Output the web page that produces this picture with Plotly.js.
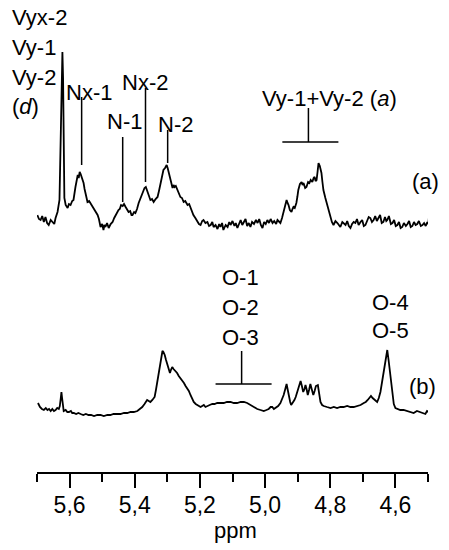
<!DOCTYPE html>
<html>
<head>
<meta charset="utf-8">
<script src="https://cdn.plot.ly/plotly-3.0.1.min.js"></script>
<style>
  html, body { margin: 0; padding: 0; background: #fff; }
  #nmr { width: 449px; height: 550px; }
</style>
</head>
<body>
<div id="nmr"></div>
<script>
// ======================================================================
// スペクトルデータ（ppm と相対強度、図から読み取り）
// ======================================================================

// (a) スペクトル
const ppmA = [
    5.699, 5.694, 5.689, 5.684, 5.679, 5.674, 5.669, 5.664, 5.658, 5.652, 5.647, 5.643, 5.637, 5.631,
    5.628, 5.625, 5.622, 5.620, 5.618, 5.616, 5.612, 5.606, 5.602, 5.597, 5.592, 5.588, 5.582, 5.578,
    5.575, 5.572, 5.569, 5.566, 5.563, 5.560, 5.557, 5.554, 5.551, 5.548, 5.545, 5.540, 5.536, 5.531,
    5.526, 5.520, 5.514, 5.510, 5.505, 5.500, 5.496, 5.493, 5.490, 5.485, 5.480, 5.474, 5.468, 5.463,
    5.459, 5.454, 5.450, 5.446, 5.442, 5.437, 5.433, 5.428, 5.424, 5.419, 5.414, 5.410, 5.407, 5.402,
    5.398, 5.393, 5.388, 5.382, 5.376, 5.373, 5.370, 5.366, 5.361, 5.356, 5.352, 5.347, 5.342, 5.336,
    5.330, 5.325, 5.321, 5.316, 5.312, 5.307, 5.302, 5.299, 5.296, 5.292, 5.288, 5.284, 5.281, 5.278,
    5.274, 5.269, 5.265, 5.260, 5.255, 5.250, 5.245, 5.238, 5.233, 5.229, 5.225, 5.220, 5.214, 5.207,
    5.203, 5.198, 5.193, 5.189, 5.183, 5.177, 5.172, 5.167, 5.162, 5.158, 5.152, 5.146, 5.141, 5.137,
    5.132, 5.128, 5.121, 5.115, 5.110, 5.106, 5.100, 5.094, 5.090, 5.085, 5.080, 5.075, 5.070, 5.066,
    5.060, 5.055, 5.050, 5.045, 5.040, 5.034, 5.028, 5.023, 5.018, 5.013, 5.008, 5.003, 4.998, 4.993,
    4.988, 4.983, 4.977, 4.972, 4.966, 4.962, 4.957, 4.953, 4.948, 4.944, 4.939, 4.934, 4.931, 4.928,
    4.924, 4.919, 4.916, 4.913, 4.909, 4.904, 4.901, 4.898, 4.893, 4.888, 4.885, 4.882, 4.877, 4.873,
    4.868, 4.864, 4.860, 4.855, 4.851, 4.848, 4.845, 4.842, 4.839, 4.836, 4.832, 4.827, 4.824, 4.821,
    4.815, 4.809, 4.804, 4.799, 4.795, 4.790, 4.784, 4.778, 4.773, 4.769, 4.763, 4.758, 4.753, 4.748,
    4.743, 4.738, 4.733, 4.728, 4.723, 4.718, 4.713, 4.707, 4.702, 4.697, 4.692, 4.687, 4.682, 4.677,
    4.672, 4.667, 4.662, 4.657, 4.652, 4.647, 4.642, 4.637, 4.632, 4.628, 4.625, 4.620, 4.614, 4.609,
    4.604, 4.599, 4.594, 4.589, 4.584, 4.579, 4.574, 4.568, 4.563, 4.558, 4.553, 4.548, 4.543, 4.538,
    4.533, 4.528, 4.522, 4.517, 4.512, 4.507, 4.502, 4.499, 4.497
];
const intA = [
    13, 9, 8, 12, 6, 11, 5, 3, 8, 6, 4, 10, 16, 28,
    90, 160, 176, 150, 70, 30, 23, 20, 24, 23, 27, 28, 41, 47,
    53, 50, 56, 54, 51, 47, 45, 39, 35, 30, 26, 27, 25, 22,
    20, 17, 13, 9, 1, 4, -2, 3, 1, 5, 0, 4, 6, 10,
    13, 15, 18, 19, 23, 22, 24, 21, 19, 16, 17, 13, 13, 16,
    15, 19, 25, 30, 35, 38, 40, 41, 36, 32, 28, 29, 26, 29,
    31, 38, 45, 51, 58, 60, 63, 60, 56, 50, 45, 40, 43, 41,
    42, 38, 34, 31, 30, 26, 27, 23, 24, 20, 17, 13, 10, 6,
    4, 3, 7, 8, 5, 6, 2, 3, 6, 1, 3, -1, 4, 1,
    5, -2, 3, 1, 6, 3, 7, 2, 5, 0, 4, 8, 3, 6,
    9, 2, 5, 1, 6, 4, 8, 5, 9, 3, 0, 6, 4, 8,
    5, 9, 5, 7, 4, 8, 6, 5, 10, 16, 22, 28, 25, 23,
    18, 16, 19, 21, 20, 25, 31, 38, 44, 46, 43, 45, 40, 41,
    46, 45, 48, 46, 50, 51, 47, 48, 56, 65, 62, 55, 46, 38,
    30, 23, 16, 10, 6, 3, 7, 5, 2, 1, 6, 4, 3, 7,
    2, 0, 4, 6, 5, 9, 3, 6, 8, 2, 3, 7, 11, 10,
    6, 8, 12, 7, 10, 13, 5, 6, 11, 7, 8, 12, 4, 5,
    8, 2, 3, 6, 0, 1, 5, 2, 4, 7, 1, 2, 6, 3,
    4, 7, 2, 3, 5, 2, 6, 4, 11
];

// (b) スペクトル
const ppmB = [
    5.697, 5.694, 5.691, 5.685, 5.679, 5.673, 5.668, 5.663, 5.658, 5.653, 5.648, 5.643, 5.638, 5.633,
    5.630, 5.627, 5.625, 5.623, 5.621, 5.618, 5.612, 5.607, 5.602, 5.596, 5.592, 5.587, 5.580, 5.573,
    5.566, 5.558, 5.550, 5.542, 5.534, 5.525, 5.515, 5.505, 5.495, 5.484, 5.475, 5.465, 5.454, 5.444,
    5.433, 5.423, 5.413, 5.403, 5.392, 5.385, 5.377, 5.370, 5.362, 5.357, 5.352, 5.346, 5.339, 5.335,
    5.331, 5.327, 5.323, 5.319, 5.315, 5.312, 5.308, 5.304, 5.300, 5.296, 5.292, 5.289, 5.285, 5.281,
    5.278, 5.274, 5.270, 5.265, 5.260, 5.255, 5.249, 5.244, 5.239, 5.234, 5.229, 5.224, 5.219, 5.213,
    5.208, 5.203, 5.198, 5.193, 5.188, 5.183, 5.178, 5.170, 5.162, 5.155, 5.147, 5.137, 5.127, 5.117,
    5.106, 5.096, 5.086, 5.075, 5.065, 5.055, 5.045, 5.035, 5.024, 5.014, 5.004, 4.996, 4.989, 4.983,
    4.978, 4.973, 4.968, 4.960, 4.953, 4.948, 4.943, 4.938, 4.934, 4.931, 4.927, 4.923, 4.920, 4.915,
    4.910, 4.906, 4.902, 4.897, 4.891, 4.887, 4.883, 4.879, 4.876, 4.872, 4.869, 4.865, 4.861, 4.857,
    4.852, 4.848, 4.844, 4.838, 4.834, 4.830, 4.825, 4.820, 4.810, 4.799, 4.789, 4.779, 4.769, 4.759,
    4.748, 4.738, 4.728, 4.717, 4.707, 4.697, 4.691, 4.685, 4.680, 4.675, 4.670, 4.664, 4.660, 4.656,
    4.651, 4.646, 4.641, 4.636, 4.631, 4.625, 4.621, 4.617, 4.613, 4.609, 4.605, 4.600, 4.592, 4.585,
    4.575, 4.564, 4.554, 4.544, 4.534, 4.523, 4.515, 4.508, 4.503, 4.498
];
const intB = [
    9, 6, 5, 3, 2, 4, 2, 3, 1, 3, 1, 2, 4, 3,
    6, 14, 20, 14, 7, 1, 2, 0, 0, 1, -1, -1, -2, -1,
    -2, -3, -2, -3, -3, -4, -3, -3, -4, -3, -3, -2, -2, -2,
    -1, -1, 0, 0, 1, 3, 5, 8, 12, 11, 10, 12, 15, 22,
    30, 38, 47, 55, 61, 60, 57, 52, 47, 42, 39, 42, 45, 43,
    42, 40, 39, 36, 34, 32, 29, 26, 24, 21, 17, 13, 10, 8,
    7, 6, 5, 6, 7, 5, 6, 7, 8, 8, 9, 9, 9, 10,
    10, 9, 9, 10, 10, 9, 7, 5, 3, 2, 1, 2, 3, 5,
    5, 3, 4, 6, 9, 13, 17, 23, 28, 23, 15, 10, 7, 9,
    12, 15, 19, 25, 31, 26, 20, 23, 27, 22, 17, 22, 28, 23,
    17, 21, 26, 27, 18, 10, 7, 6, 5, 4, 5, 4, 5, 5,
    6, 5, 5, 6, 7, 9, 10, 12, 14, 16, 14, 12, 11, 10,
    14, 20, 30, 40, 52, 62, 52, 40, 27, 15, 8, 4, 3, 2,
    2, 1, 0, -1, 1, 0, -1, -2, 1, 0
];

// 縦方向のずらし量（スタック表示）
const offsetA = 244;
const offsetB = 60;

// ======================================================================
// 描画
// ======================================================================

const lineStyle = { color: '#000', width: 1.8 };

const traces = [
    {
        x: ppmA,
        y: intA.map(v => v + offsetA),
        type: 'scatter',
        mode: 'lines',
        line: lineStyle,
        hoverinfo: 'skip'
    },
    {
        x: ppmB,
        y: intB.map(v => v + offsetB),
        type: 'scatter',
        mode: 'lines',
        line: lineStyle,
        hoverinfo: 'skip'
    }
];

const fontFamily = 'Arial, "Liberation Sans", sans-serif';
const labelFont = { family: fontFamily, size: 22, color: '#000' };

// 帰属ラベル [テキスト, x, y, 揃え, x基準]
const peakLabels = [
    ['Vyx-2', -0.069, 455, 'left', 'paper'],
    ['Vy-1', -0.069, 425, 'left', 'paper'],
    ['Vy-2', -0.069, 395, 'left', 'paper'],
    ['(<i>d</i>)', -0.069, 366, 'left', 'paper'],
    ['Nx-1', 5.539, 380, 'center', 'x'],
    ['N-1', 5.433, 351, 'center', 'x'],
    ['Nx-2', 5.368, 390, 'center', 'x'],
    ['N-2', 5.276, 348, 'center', 'x'],
    ['Vy-1+Vy-2 (<i>a</i>)', 4.802, 374, 'center', 'x'],
    ['(a)', 4.508, 291, 'center', 'x'],
    ['O-1', 5.075, 195, 'center', 'x'],
    ['O-2', 5.075, 165, 'center', 'x'],
    ['O-3', 5.075, 135, 'center', 'x'],
    ['O-4', 4.615, 170, 'center', 'x'],
    ['O-5', 4.615, 142, 'center', 'x'],
    ['(b)', 4.517, 86, 'center', 'x']
];

const annotations = peakLabels.map(([text, x, y, align, xref]) => ({
    text: text,
    x: x,
    y: y,
    xref: xref,
    yref: 'y',
    xanchor: align,
    yanchor: 'middle',
    showarrow: false,
    font: labelFont
}));

// 軸タイトル
annotations.push({
    text: 'ppm',
    x: 0.507,
    y: -0.123,
    xref: 'paper',
    yref: 'paper',
    xanchor: 'center',
    yanchor: 'middle',
    showarrow: false,
    font: labelFont
});

// 帰属の指示線 [x0, y0, x1, y1]
const markerLines = [
    [5.563, 375, 5.563, 307],
    [5.437, 335, 5.437, 270],
    [5.367, 384, 5.367, 290],
    [5.299, 342, 5.299, 309],
    [4.867, 364, 4.867, 330],
    [4.947, 330, 4.775, 330],
    [5.072, 121, 5.072, 88],
    [5.152, 88, 4.980, 88]
];

const shapes = markerLines.map(([x0, y0, x1, y1]) => ({
    type: 'line',
    xref: 'x',
    yref: 'y',
    x0: x0, y0: y0, x1: x1, y1: y1,
    line: { color: '#000', width: 1.5 }
}));

const layout = {
    width: 449,
    height: 550,
    margin: { l: 37, r: 21, t: 0, b: 78 },
    paper_bgcolor: '#fff',
    plot_bgcolor: '#fff',
    showlegend: false,
    separators: ', ',
    font: { family: fontFamily, color: '#000' },
    xaxis: {
        range: [5.7, 4.5],
        autorange: false,
        showgrid: false,
        zeroline: false,
        showline: true,
        linecolor: '#000',
        linewidth: 2,
        ticks: 'outside',
        ticklen: 14,
        tickwidth: 2,
        tickcolor: '#000',
        tick0: 4.6,
        dtick: 0.2,
        tickformat: '.1f',
        ticklabelstandoff: -3,
        tickfont: { size: 23, color: '#000' },
        minor: {
            ticks: 'outside',
            tick0: 4.5,
            dtick: 0.1,
            ticklen: 8,
            tickwidth: 2,
            tickcolor: '#000',
            showgrid: false
        }
    },
    yaxis: {
        range: [0, 472],
        autorange: false,
        visible: false,
        showgrid: false,
        zeroline: false
    },
    annotations: annotations,
    shapes: shapes
};

Plotly.newPlot('nmr', traces, layout, { staticPlot: true, displayModeBar: false });
</script>
</body>
</html>
